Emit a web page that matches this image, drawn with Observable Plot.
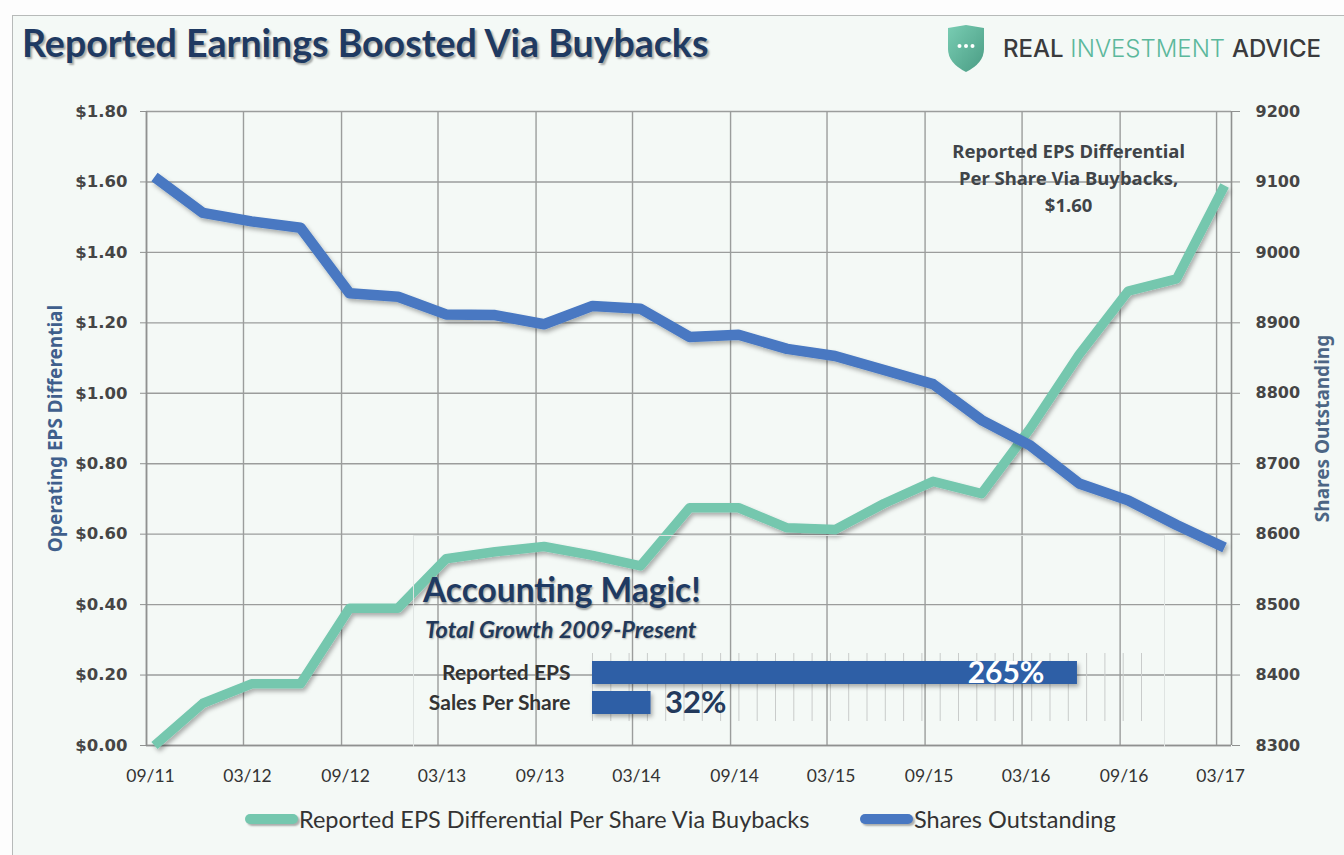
<!DOCTYPE html>
<html><head><meta charset="utf-8">
<script src="https://cdn.jsdelivr.net/npm/d3@7"></script>
<script src="https://cdn.jsdelivr.net/npm/@observablehq/plot@0.6"></script>
<style>
html,body{margin:0;padding:0;background:#fdfdfd;}
#page{position:relative;width:1344px;height:855px;overflow:hidden;background:#fdfdfd;}
#frame{position:absolute;left:12px;top:15px;width:1340px;height:860px;border:1.5px solid #b7bab9;background:#f4f9f6;box-sizing:border-box;}
#title{position:absolute;left:22px;top:20px;font-family:Lato,sans-serif;font-weight:bold;font-size:37.5px;color:#1f3a62;text-shadow:2px 2px 2px rgba(0,0,0,.32);white-space:nowrap;}
#logo{position:absolute;left:944px;top:25px;}
#logotext{position:absolute;left:1003px;top:34px;font-family:Inter,"Liberation Sans",sans-serif;font-size:24px;letter-spacing:0px;white-space:nowrap;color:#3a3b3d;}
#logotext .g{color:#5cb89c;font-weight:300;}
#logotext .d{font-weight:500;}
#main{position:absolute;left:0;top:95px;}
#inset{position:absolute;left:410px;top:530px;}
#insetbox{position:absolute;left:413px;top:535px;width:752px;height:212px;border:1px solid #dfe4e2;border-bottom:none;box-sizing:border-box;}
.ih{position:absolute;font-family:Lato,sans-serif;font-weight:bold;color:#1f3a62;white-space:nowrap;}
#h1{left:423px;top:569px;font-size:33.5px;text-shadow:1px 2px 2px rgba(0,0,0,.35);}
#h2{left:425px;top:615px;font-size:23.5px;font-style:italic;color:#23395a;text-shadow:1px 1px 2px rgba(0,0,0,.3);}
.leg{position:absolute;top:805px;display:flex;align-items:center;font-family:Lato,sans-serif;font-size:23.5px;color:#333;white-space:nowrap;}
.sw{display:inline-block;width:53px;height:10px;border-radius:5px;box-shadow:2px 2px 2px rgba(0,0,0,.3);margin-right:1px;}
</style></head>
<body><div id="page">
<div id="frame"></div>
<div id="title">Reported Earnings Boosted Via Buybacks</div>
<svg id="logo" width="44" height="48" viewBox="0 0 44 48">
 <defs><linearGradient id="lg" x1="0" y1="0" x2="1" y2="1"><stop offset="0" stop-color="#79cdb3"/><stop offset="1" stop-color="#4a9c84"/></linearGradient></defs>
 <path d="M4 3 L22 0 L40 3 L40 24 Q40 38 22 47 Q4 38 4 24 Z" fill="url(#lg)"/>
 <circle cx="15.5" cy="21" r="2" fill="#fff"/><circle cx="22" cy="21" r="2" fill="#fff"/><circle cx="28.5" cy="21" r="2" fill="#fff"/>
</svg>
<div id="logotext"><span class="d">REAL</span> <span class="g">INVESTMENT</span> <span class="d">ADVICE</span></div>
<div id="main"></div>
<div id="insetbox"></div>
<div class="ih" id="h1">Accounting Magic!</div>
<div class="ih" id="h2">Total Growth 2009-Present</div>
<div id="inset"></div>
<div class="leg" style="left:245px"><span class="sw" style="background:#74c7ae"></span><span id="lt1"></span></div>
<div class="leg" style="left:860px"><span class="sw" style="background:#4878c2"></span><span id="lt2"></span></div>
</div>
<script>
// ---------- data ----------
const quarters = ["2011-09","2011-12","2012-03","2012-06","2012-09","2012-12","2013-03","2013-06","2013-09","2013-12","2014-03","2014-06","2014-09","2014-12","2015-03","2015-06","2015-09","2015-12","2016-03","2016-06","2016-09","2016-12","2017-03"];
const epsDiff = [0.00,0.12,0.175,0.175,0.39,0.39,0.53,0.55,0.565,0.54,0.51,0.675,0.675,0.618,0.613,0.687,0.75,0.715,0.90,1.11,1.29,1.325,1.59];
const shares  = [9107,9056,9044,9035,8942,8937,8912,8911,8898,8924,8920,8880,8883,8863,8853,8833,8813,8762,8726,8672,8648,8613,8581];
const epsTicks = [0,0.2,0.4,0.6,0.8,1.0,1.2,1.4,1.6,1.8];
const shareTicks = [8300,8400,8500,8600,8700,8800,8900,9000,9100,9200];
const seriesNames = ["Reported EPS Differential Per Share Via Buybacks","Shares Outstanding"];
const axisTitles = ["Operating EPS Differential","Shares Outstanding"];
const noteText = ["Reported EPS Differential\nPer Share Via Buybacks,\n$1.60"];
const insetCats = ["Reported EPS","Sales Per Share"];
const insetVals = [265,32];
const insetTicks = d3.range(0,301,10);

const GREEN = "#74c7ae", BLUE = "#4878c2";
const parse = d3.utcParse("%Y-%m");
const rows = quarters.map((q,i)=>({date:d3.utcDay.offset(parse(q),15), eps:epsDiff[i], shares:shares[i]}));
const labelRows = rows.filter((d,i)=>i%2===0);
const gridDates = labelRows.map(d=>d3.utcMonth.floor(d.date));
const xDomain = [parse("2011-09"), d3.utcDay.offset(parse("2017-03"),28)];
const toLeft = d3.scaleLinear([8300,9200],[0,1.8]);
const fromLeft = toLeft.invert;

document.getElementById("lt1").textContent = seriesNames[0];
document.getElementById("lt2").textContent = seriesNames[1];

const gridStyle = {stroke:"#9b9d9c", strokeOpacity:1, strokeWidth:1.4};
const main = Plot.plot({
  width:1344, height:700,
  marginLeft:146, marginRight:113, marginTop:16, marginBottom:50,
  style:{background:"transparent", overflow:"visible"},
  x:{type:"utc", domain:xDomain, axis:null},
  y:{domain:[0,1.8], axis:null},
  marks:[
    Plot.gridY(epsTicks, gridStyle),
    Plot.ruleX(gridDates, gridStyle),
    Plot.ruleX(xDomain, {stroke:"#8f9190", strokeWidth:1.6}),
    Plot.ruleY([0], {stroke:"#8f9190", strokeWidth:1.6}),
    Plot.axisY(epsTicks, {anchor:"left", tickFormat:d=>"$"+d.toFixed(2), tickSize:6, tickPadding:13,
      stroke:"#8f9190", fill:"#454545", fontFamily:"DejaVu Sans", fontWeight:"bold", fontSize:16.5, label:null}),
    Plot.axisY(shareTicks.map(toLeft), {anchor:"right", tickFormat:v=>String(Math.round(fromLeft(v))), tickSize:8, tickPadding:16,
      stroke:"#8f9190", fill:"#454545", fontFamily:"DejaVu Sans", fontWeight:"bold", fontSize:16, label:null}),
    Plot.axisX(labelRows.map(d=>d.date), {anchor:"bottom", tickFormat:d3.utcFormat("%m/%y"), tickSize:0, tickPadding:24, dx:-4,
      fill:"#333", fontFamily:"Lato", fontSize:17.5, label:null}),
    Plot.line(rows, {x:"date", y:"eps", stroke:GREEN, strokeWidth:9.5, strokeLinejoin:"round", strokeLinecap:"butt"}),
    Plot.line(rows, {x:"date", y:d=>toLeft(d.shares), stroke:BLUE, strokeWidth:10.5, strokeLinejoin:"round", strokeLinecap:"butt"}),
    Plot.text(noteText.map(t=>({t, ...rows[rows.length-1]})), {x:"date", y:"eps", text:"t", dx:-156, dy:-9, lineAnchor:"middle", lineHeight:1.45,
      fill:"#3f4448", fontFamily:"Noto Sans", fontWeight:"bold", fontSize:18.5}),
    Plot.text([axisTitles[0]], {frameAnchor:"left", textAnchor:"middle", dx:-91, rotate:-90, fill:"#3f5f8c", fontFamily:"Noto Sans", fontWeight:"bold", fontSize:19}),
    Plot.text([axisTitles[1]], {frameAnchor:"right", textAnchor:"middle", dx:91, rotate:-90, fill:"#4c6584", fontFamily:"Noto Sans", fontWeight:"bold", fontSize:19})
  ]
});
// drop shadows for lines
const ns = "http://www.w3.org/2000/svg";
function addShadow(svg, id){
  const defs = document.createElementNS(ns,"defs");
  defs.innerHTML = `<filter id="${id}" x="-10%" y="-10%" width="120%" height="130%"><feDropShadow dx="2" dy="3" stdDeviation="2" flood-color="#000" flood-opacity="0.3"/></filter>`;
  svg.insertBefore(defs, svg.firstChild);
}
addShadow(main, "sh");
main.querySelectorAll('g[aria-label="line"]').forEach(g=>g.setAttribute("filter","url(#sh)"));
document.getElementById("main").appendChild(main);

// inset bar chart
const insetRows = insetCats.map((c,i)=>({cat:c, value:insetVals[i]}));
const inset = Plot.plot({
  width:760, height:220, marginLeft:182, marginRight:29, marginTop:123, marginBottom:29,
  style:{background:"transparent", overflow:"visible"},
  x:{domain:[0,300], axis:null},
  y:{domain:insetCats, axis:null, padding:0.24},
  marks:[
    Plot.ruleX(insetTicks, {stroke:"#c9cccb", strokeWidth:1}),
    Plot.barX(insetRows, {x:"value", y:"cat", fill:"#2e5ea6"}),
    Plot.text(insetRows.filter(d=>d.value>100), {x:"value", y:"cat", text:d=>d.value+"%", textAnchor:"end", dx:-33,
      fill:"#fff", fontFamily:"Lato", fontWeight:"bold", fontSize:30}),
    Plot.text(insetRows.filter(d=>d.value<=100), {x:"value", y:"cat", text:d=>d.value+"%", textAnchor:"start", dx:14,
      fill:"#233a5c", fontFamily:"Lato", fontWeight:"bold", fontSize:31}),
    Plot.axisY({anchor:"left", tickSize:0, tickPadding:22, fill:"#333", fontFamily:"Lato", fontWeight:"bold", fontSize:21, label:null})
  ]
});
addShadow(inset, "sh2");
inset.querySelectorAll('g[aria-label="bar"]').forEach(g=>g.setAttribute("filter","url(#sh2)"));
document.getElementById("inset").appendChild(inset);
</script>
</body></html>
